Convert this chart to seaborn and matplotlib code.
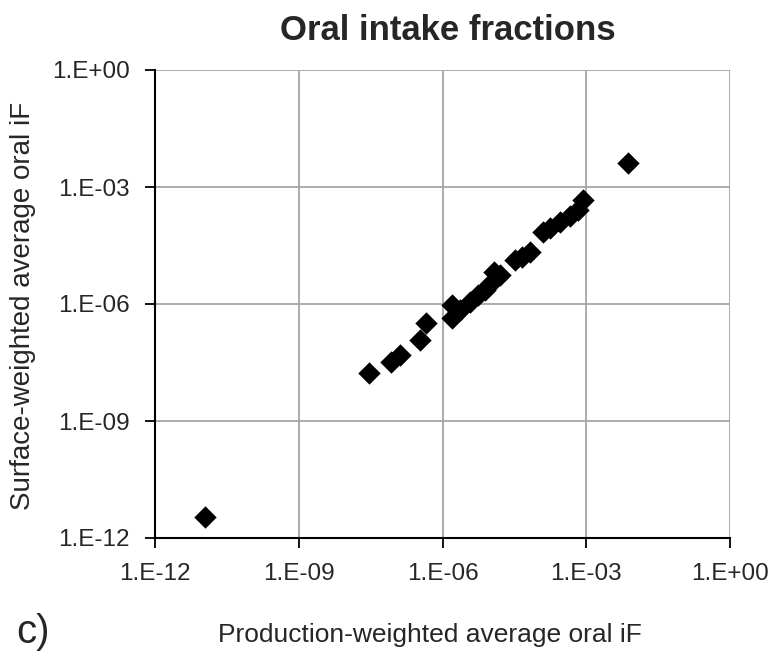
import numpy as np
import pandas as pd
import matplotlib
matplotlib.use("Agg")
import matplotlib.pyplot as plt
import seaborn as sns
from matplotlib.ticker import FixedLocator, FixedFormatter, NullLocator

# log10 of production-weighted iF (x) and surface-weighted iF (y)
log_prod = [-10.96, -7.53, -7.08, -6.89, -6.47, -6.34, -5.80, -5.80, -5.64, -5.43,
            -5.26, -5.11, -5.01, -4.93, -4.80, -4.49, -4.34, -4.17, -3.90, -3.76,
            -3.55, -3.34, -3.17, -3.07, -2.13]
log_surf = [-11.46, -7.77, -7.49, -7.31, -6.92, -6.49, -6.36, -6.03, -6.15, -5.95,
            -5.77, -5.64, -5.49, -5.18, -5.26, -4.87, -4.79, -4.67, -4.15, -4.05,
            -3.90, -3.74, -3.59, -3.33, -2.38]
tick_values = [1e-12, 1e-9, 1e-6, 1e-3, 1e0]
tick_labels = ["1.E-12", "1.E-09", "1.E-06", "1.E-03", "1.E+00"]

df = pd.DataFrame({"prod": np.power(10.0, log_prod), "surf": np.power(10.0, log_surf)})

sns.set_style("white")
plt.rcParams['font.family'] = ['Liberation Sans', 'DejaVu Sans']

fig = plt.figure(figsize=(7.72, 6.51), dpi=100)
ax = fig.add_axes([155/772, 1-538/651, (730-155)/772, (538-70)/651])
ax.set_xscale("log")
ax.set_yscale("log")
sns.scatterplot(data=df, x="prod", y="surf", marker="D", color="black",
                s=130, linewidth=0, ax=ax, zorder=3)
ax.set_xlim(1e-12, 1e0)
ax.set_ylim(1e-12, 1e0)
for a in (ax.xaxis, ax.yaxis):
    a.set_major_locator(FixedLocator(tick_values))
    a.set_major_formatter(FixedFormatter(tick_labels))
    a.set_minor_locator(NullLocator())
ax.grid(True, color="#a6a6a6", linewidth=1.3)
ax.set_axisbelow(True)
for side in ("top", "right"):
    ax.spines[side].set_visible(False)
for side in ("left", "bottom"):
    ax.spines[side].set_color("black")
    ax.spines[side].set_linewidth(1.5)
ax.tick_params(axis="both", which="major", direction="out", length=7, width=1.3,
               color="black", labelsize=17.5, bottom=True, left=True)
ax.tick_params(axis="x", pad=11)
ax.tick_params(axis="y", pad=11)
ax.set_xlabel("")
ax.set_ylabel("")
fig.text(23/772, 1-306/651, "Surface-weighted average oral iF", fontsize=20,
         rotation=90, ha="center", va="center")
fig.text(430/772, 1-635/651, "Production-weighted average oral iF", fontsize=19,
         ha="center", va="center")
fig.text(16/772, 1-632/651, "c)", fontsize=29, ha="left", va="center")
fig.text(448/772, 1-31/651, "Oral intake fractions", fontsize=25, fontweight="bold",
         ha="center", va="center")
fig.savefig("out.png", dpi=100, facecolor="white")
